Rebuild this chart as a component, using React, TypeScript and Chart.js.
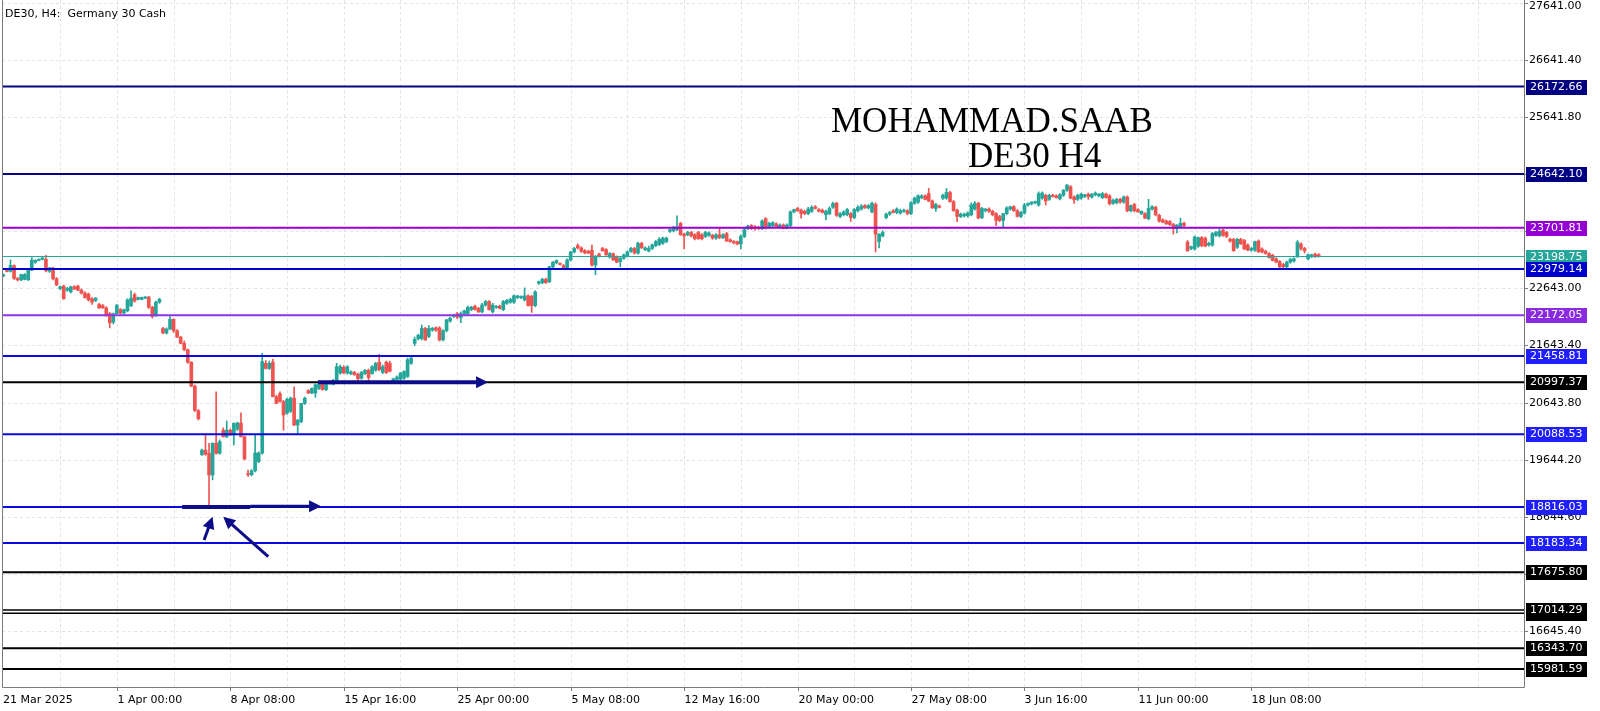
import React, { useEffect, useRef } from "react";
import { Chart, registerables } from "chart.js";
Chart.register(...registerables);

// DE30 H4 candles: [open, high, low, close]
const ohlc: [number, number, number, number][] = [
  [22860,22895,22845,22880],[22975,22990,22930,22940],[22940,23140,22925,23040],[23040,23055,22800,22815],
  [22815,22835,22770,22790],[22790,22890,22775,22880],[22800,22900,22790,22885],[22790,22975,22780,22960],
  [22960,23180,22950,23135],[23100,23140,23080,23135],[23130,23160,23120,23150],[23150,23180,23140,23175],
  [23150,23220,22930,22950],[22940,23010,22920,23000],[23000,23010,22790,22810],[22810,22830,22690,22700],
  [22640,22680,22620,22670],[22680,22700,22450,22460],[22610,22660,22590,22640],[22580,22680,22560,22670],
  [22670,22690,22620,22630],[22680,22700,22600,22610],[22610,22630,22540,22560],[22560,22580,22470,22480],
  [22540,22560,22420,22440],[22460,22480,22360,22400],[22430,22480,22410,22470],[22360,22380,22290,22300],
  [22340,22360,22290,22300],[22300,22320,22150,22180],[22200,22220,21950,22040],[22050,22210,22020,22200],
  [22200,22360,22190,22350],[22270,22290,22190,22210],[22210,22280,22190,22270],[22250,22460,22230,22440],
  [22340,22600,22320,22470],[22530,22560,22400,22420],[22450,22490,22440,22480],[22450,22490,22440,22480],
  [22470,22500,22460,22490],[22490,22500,22290,22310],[22310,22330,22120,22150],[22170,22420,22150,22400],
  [22400,22470,22380,22450],[21940,21960,21850,21860],[21860,21950,21840,21930],[21930,22150,21920,22100],
  [22100,22110,21870,21900],[21900,21920,21780,21790],[21790,21800,21670,21680],[21680,21720,21550,21570],
  [21570,21580,21330,21350],[21350,21360,20920,20930],[20930,20950,20490,20500],[20500,20520,20340,20360],
  [19730,19830,19720,19810],[19810,20100,19720,19740],[19755,19930,18840,19375],[19375,19940,19290,19930],
  [19930,20830,19740,19755],[19755,19990,19740,19960],[20160,20200,20040,20045],[20045,20320,20030,20160],
  [20160,20180,20070,20075],[20075,20290,19900,20280],[20180,20300,20150,20285],[20285,20465,20040,20045],
  [20045,20060,19640,19655],[19400,19460,19350,19380],[19380,19470,19360,19450],[19450,20080,19430,19760],
  [19610,19780,19590,19760],[19760,21505,19740,21360],[21330,21380,21230,21240],[21240,21370,21220,21330],
  [21350,21400,20740,20745],[20745,20770,20620,20630],[20800,20830,20650,20660],[20660,20680,20160,20425],
  [20455,20720,20440,20700],[20490,20740,20470,20720],[20720,20920,20240,20250],[20250,20340,20105,20340],
  [20310,20630,20290,20630],[20630,20740,20610,20720],[20850,20870,20800,20810],[20810,20900,20800,20890],
  [20810,20970,20735,20955],[20890,20980,20870,20960],[20990,21010,20860,20870],[20870,21010,20850,20990],
  [20980,21020,20960,21010],[20960,21050,20950,21030],[21040,21330,21020,21270],[21160,21300,21140,21270],
  [21260,21290,21150,21160],[21160,21290,21140,21270],[21150,21200,21130,21180],[21170,21190,21120,21130],
  [21140,21160,21030,21060],[21070,21190,21050,21170],[21150,21220,21130,21210],[21210,21230,21010,21080],
  [21150,21290,21140,21270],[21210,21350,21190,21330],[21350,21490,21200,21220],[21170,21300,21150,21270],
  [21350,21370,21150,21170],[21330,21370,21180,21190],[21030,21070,21010,21060],[21050,21110,21030,21090],
  [21050,21170,21030,21160],[21070,21200,21050,21190],[21100,21420,21080,21390],[21330,21440,21310,21420],
  [21680,21790,21640,21750],[21760,21840,21740,21820],[21760,22000,21740,21940],[21940,21960,21730,21740],
  [21800,21990,21780,21940],[21910,21960,21890,21940],[21950,21970,21890,21910],[21950,21970,21720,21740],
  [21740,21920,21720,21900],[21900,22100,21880,22090],[22070,22140,22050,22120],[22150,22190,22130,22180],
  [22200,22220,22110,22140],[22130,22230,22040,22200],[22200,22260,22180,22250],[22200,22330,22180,22310],
  [22270,22330,22250,22310],[22330,22350,22260,22270],[22290,22310,22220,22230],[22230,22380,22210,22350],
  [22350,22430,22330,22410],[22410,22430,22260,22270],[22230,22380,22210,22350],[22310,22340,22290,22330],
  [22330,22350,22280,22290],[22270,22430,22250,22410],[22380,22450,22360,22430],[22400,22470,22380,22450],
  [22400,22530,22380,22510],[22480,22520,22460,22510],[22480,22510,22460,22500],[22440,22650,22420,22510],
  [22510,22530,22330,22340],[22500,22520,22220,22340],[22340,22600,22320,22580],[22730,22770,22710,22760],
  [22740,22820,22720,22800],[22800,22820,22730,22740],[22760,23030,22740,23020],[23020,23110,23000,23100],
  [23090,23140,23070,23130],[23070,23090,23050,23060],[23040,23060,22980,22990],[22990,23160,22970,23140],
  [23140,23290,23120,23280],[23280,23360,23260,23340],[23390,23420,23330,23350],[23350,23370,23270,23290],
  [23300,23320,23250,23260],[23290,23310,23250,23260],[23310,23400,23030,23050],[23050,23220,22880,23190],
  [23240,23260,23190,23200],[23340,23360,23290,23300],[23320,23340,23220,23230],[23190,23270,23170,23250],
  [23250,23260,23130,23140],[23200,23210,23090,23100],[23110,23200,23020,23170],[23170,23240,23150,23230],
  [23210,23300,23190,23280],[23290,23360,23270,23340],[23340,23360,23240,23260],[23260,23450,23240,23430],
  [23430,23450,23340,23350],[23320,23370,23300,23350],
  [23295,23380,23280,23340],[23340,23420,23320,23400],[23390,23480,23370,23460],[23410,23530,23390,23500],
  [23430,23540,23410,23520],[23460,23540,23440,23520],[23640,23680,23620,23670],[23650,23730,23630,23710],
  [23670,23910,23650,23720],[23780,23800,23570,23580],[23590,23610,23330,23560],[23580,23640,23560,23620],
  [23620,23640,23540,23560],[23580,23600,23490,23510],[23620,23640,23500,23510],[23580,23600,23490,23510],
  [23550,23640,23530,23620],[23570,23630,23550,23610],[23570,23590,23500,23520],[23520,23600,23500,23580],
  [23580,23690,23510,23530],[23530,23600,23510,23580],[23600,23620,23460,23470],[23490,23510,23450,23460],
  [23460,23480,23420,23440],[23460,23470,23400,23420],[23420,23580,23330,23550],[23550,23710,23530,23670],
  [23690,23750,23670,23730],[23740,23760,23670,23690],[23720,23740,23660,23690],[23710,23730,23670,23690],
  [23690,23840,23670,23820],[23860,23880,23680,23700],[23720,23800,23700,23780],[23740,23810,23720,23790],
  [23770,23790,23710,23720],[23720,23770,23700,23750],[23750,23770,23680,23690],[23700,23770,23680,23750],
  [23740,24000,23720,23980],[23980,24030,23960,24020],[24040,24060,23990,24000],[24010,24030,23870,23950],
  [23990,24010,23930,23950],[23950,24060,23930,24030],[23990,24090,23970,24060],[24070,24090,24030,24040],
  [24020,24040,23980,23990],[24010,24030,23960,23970],[23930,24010,23840,23990],[23950,24070,23930,24040],
  [24060,24150,24040,24130],[24130,24150,23900,23920],[23900,23970,23880,23950],[23930,24000,23910,23980],
  [23930,24040,23910,24020],[23950,23970,23810,23880],[23880,24040,23860,24020],[24000,24090,23980,24060],
  [24030,24110,24010,24080],[24090,24110,24040,24050],[24050,24110,24030,24090],[23980,24150,23960,24130],
  [24110,24140,23280,23590],[23460,23600,23350,23590],[23560,23650,23540,23620],[23880,23960,23860,23940],
  [23940,23990,23920,23970],[24000,24020,23960,23970],[23970,24050,23950,24030],
  [23960,24030,23940,24000],[23990,24030,23970,24010],[24000,24020,23930,23950],[23950,24160,23930,24140],
  [24130,24240,24110,24220],[24150,24280,24130,24260],[24230,24280,24210,24260],[24260,24280,24190,24200],
  [24300,24390,24160,24170],[24170,24190,24040,24050],[24040,24130,23990,24110],[24080,24100,24050,24060],
  [24220,24290,24200,24270],[24220,24390,24200,24320],[24320,24340,24150,24160],[24160,24180,23990,24000],
  [24010,24030,23810,23900],[23900,23960,23880,23940],[23910,23960,23890,23940],[23910,23980,23890,23960],
  [23930,24140,23910,24100],[24030,24160,24010,24130],[24130,24150,23860,23870],[23880,24060,23860,24040],
  [24000,24040,23980,24030],[24030,24050,23970,23990],[23990,24010,23910,23930],[23950,23970,23740,23830],
  [23900,23920,23810,23830],[23830,23950,23700,23950],[23950,24070,23930,24050],[24030,24080,24010,24070],
  [24070,24090,23990,24000],[24000,24020,23890,23900],[23900,23990,23880,23970],[23960,24130,23940,24100],
  [24100,24140,24080,24130],[24120,24160,24100,24150],[24140,24170,24120,24160],[24100,24330,24080,24300],
  [24220,24330,24200,24310],[24270,24290,24100,24170],[24200,24290,24180,24270],[24270,24290,24240,24250],
  [24260,24280,24220,24230],[24210,24300,24190,24280],[24270,24370,24250,24360],[24360,24460,24340,24450],
  [24420,24440,24210,24220],[24240,24260,24130,24190],[24200,24290,24180,24270],[24220,24310,24200,24290],
  [24250,24290,24230,24280],[24290,24310,24200,24250],[24240,24300,24220,24290],[24280,24330,24260,24310],
  [24260,24300,24240,24290],[24230,24320,24210,24300],[24290,24310,24220,24230],[24260,24280,24100,24120],
  [24130,24210,24110,24180],[24140,24220,24120,24200],[24200,24220,24130,24150],[24150,24260,24130,24240],
  [24240,24260,23980,24000],[24000,24100,23980,24090],[24110,24130,23980,24000],[24020,24040,23970,23980],
  [23950,24000,23930,23990],[23950,23970,23860,23870],[23860,24200,23840,24040],[24030,24090,24010,24070],
  [24060,24080,23910,23930],[23920,23940,23800,23820],
  [23840,23860,23790,23800],[23820,23840,23760,23770],[23810,23830,23740,23760],[23760,23780,23590,23690],
  [23690,23760,23610,23750],[23720,23870,23700,23780],[23780,23800,23720,23740],[23450,23480,23290,23300],
  [23340,23380,23320,23370],[23330,23560,23310,23540],[23380,23540,23360,23530],[23530,23550,23370,23390],
  [23520,23540,23370,23380],[23400,23450,23380,23430],[23400,23620,23380,23600],[23570,23640,23550,23620],
  [23560,23680,23540,23640],[23660,23680,23550,23570],[23620,23640,23530,23550],[23500,23520,23450,23470],
  [23500,23520,23290,23300],[23360,23520,23340,23500],[23500,23520,23410,23420],[23480,23500,23320,23330],
  [23400,23420,23300,23310],[23310,23360,23290,23340],[23310,23470,23290,23460],[23470,23490,23270,23280],
  [23330,23350,23260,23280],[23290,23310,23240,23250],[23250,23270,23170,23180],[23220,23240,23120,23130],
  [23160,23180,23090,23100],[23110,23130,22990,23020],[23060,23080,22980,23020],[23020,23120,23000,23100],
  [23100,23170,23080,23150],[23120,23180,23100,23160],[23200,23480,23180,23450],[23420,23440,23310,23340],
  [23340,23360,23260,23300],[23160,23240,23140,23230],[23200,23240,23180,23230],[23240,23260,23180,23200],
  [23230,23250,23190,23200],
];

// Horizontal price levels (drawn in this order)
const levelValues = [26172.66, 24642.10, 23701.81, 23198.75, 22979.14, 22172.05, 21458.81, 20997.37,
  20088.53, 18816.03, 18183.34, 17675.80, 16955.12, 17014.29, 16343.70, 15981.59];
const levelLabels = ["26172.66", "24642.10", "23701.81", "23198.75", "22979.14", "22172.05", "21458.81", "20997.37",
  "20088.53", "18816.03", "18183.34", "17675.80", "16955.12", "17014.29", "16343.70", "15981.59"];

// Right axis tick values
const yTickValues = [27641.00, 26641.40, 25641.80, 24642.20, 23642.60, 22643.00, 21643.40, 20643.80,
  19644.20, 18644.60, 17645.00, 16645.40];

// Time axis labels and the bar index they sit on
const dateLabels = ["21 Mar 2025", "1 Apr 00:00", "8 Apr 08:00", "15 Apr 16:00", "25 Apr 00:00", "5 May 08:00",
  "12 May 16:00", "20 May 00:00", "27 May 08:00", "3 Jun 16:00", "11 Jun 00:00", "18 Jun 08:00"];
const dateIndices = [0, 32, 64, 96, 128, 160, 192, 224, 256, 288, 320, 352];

// Hand-drawn arrows in (bar index, price) units: [x1, y1, x2, y2]
const arrowSegments: [number, number, number, number][] = [
  [50.4, 18816.03, 69.6, 18816.03],
  [69.6, 18830, 89.6, 18830],
  [88.7, 20997.37, 136.7, 20997.37],
  [56.6, 18238, 59.0, 18646],
  [74.7, 17946, 62.0, 18646],
];
const arrowHasHead = [false, true, true, true, true];

// ---- styles ----
const BULL = "#26a69a";
const BEAR = "#ef5350";
const NAVY = "#0d0d8a";
const levelLineColors = ["#05057e", "#05057e", "#9a00d6", "#26a69a", "#0000cc", "#8c35e8", "#0a0ae0", "#000000",
  "#0a0ae0", "#0a0ae0", "#0a0ae0", "#000000", "#000000", "#000000", "#000000", "#000000"];
const levelBoxColors = ["#000080", "#000080", "#9400d3", "#26a69a", "#0000cd", "#8a2be2", "#1e1eff", "#000000",
  "#1e1eff", "#1e1eff", "#1e1eff", "#000000", "#000000", "#000000", "#000000", "#000000"];
const levelLineWidths = [2, 2, 2, 1, 2, 2, 2, 2, 2, 2, 2, 2, 1.5, 1.5, 2, 2];
const arrowWidths = [4, 3, 4, 3, 3];
const AXIS_FONT = '11px "DejaVu Sans", Tahoma, sans-serif';

const mtPlugin = {
  id: "mtDecor",
  beforeDraw(chart: any) {
    const ctx = chart.ctx;
    ctx.save();
    ctx.fillStyle = "#ffffff";
    ctx.fillRect(0, 0, chart.width, chart.height);
    ctx.restore();
  },
  beforeDatasetsDraw(chart: any) {
    const { ctx, chartArea: a, scales } = chart;
    const xs = scales.x, ys = scales.y;
    ctx.save();
    ctx.strokeStyle = "#e3e3e3";
    ctx.lineWidth = 1;
    ctx.setLineDash([3, 3]);
    for (const v of yTickValues) {
      const y = Math.round(ys.getPixelForValue(v)) + 0.5;
      ctx.beginPath(); ctx.moveTo(a.left, y); ctx.lineTo(a.right, y); ctx.stroke();
    }
    for (let i = 16; i < xs.max; i += 16) {
      const x = Math.round(xs.getPixelForValue(i)) + 0.5;
      ctx.beginPath(); ctx.moveTo(x, a.top); ctx.lineTo(x, a.bottom); ctx.stroke();
    }
    ctx.setLineDash([]);
    // watermark
    ctx.fillStyle = "#000000";
    ctx.font = '35px "Liberation Serif", "Times New Roman", serif';
    ctx.textBaseline = "alphabetic";
    ctx.fillText("MOHAMMAD.SAAB", 831, 131.5);
    ctx.fillText("DE30 H4", 968, 167);
    // title
    ctx.font = AXIS_FONT;
    ctx.fillText("DE30, H4:  Germany 30 Cash", 5, 16.5);
    ctx.restore();
  },
  afterDatasetsDraw(chart: any) {
    const { ctx, chartArea: a, scales } = chart;
    const xs = scales.x, ys = scales.y;
    ctx.save();
    ctx.beginPath(); ctx.rect(a.left, a.top, a.right - a.left, a.bottom - a.top); ctx.clip();
    // levels
    levelValues.forEach((v, i) => {
      const y = ys.getPixelForValue(v);
      ctx.strokeStyle = levelLineColors[i];
      ctx.lineWidth = levelLineWidths[i];
      ctx.beginPath(); ctx.moveTo(a.left, y); ctx.lineTo(a.right, y); ctx.stroke();
    });
    // arrows
    ctx.strokeStyle = NAVY; ctx.fillStyle = NAVY; ctx.lineCap = "butt";
    arrowSegments.forEach((s, i) => {
      const x1 = xs.getPixelForValue(s[0]), y1 = ys.getPixelForValue(s[1]);
      const x2 = xs.getPixelForValue(s[2]), y2 = ys.getPixelForValue(s[3]);
      const ang = Math.atan2(y2 - y1, x2 - x1);
      const head = arrowHasHead[i] ? 12 : 0;
      ctx.lineWidth = arrowWidths[i];
      ctx.beginPath(); ctx.moveTo(x1, y1);
      ctx.lineTo(x2 - Math.cos(ang) * head * 0.8, y2 - Math.sin(ang) * head * 0.8); ctx.stroke();
      if (head) {
        ctx.beginPath();
        ctx.moveTo(x2, y2);
        ctx.lineTo(x2 - Math.cos(ang) * head - Math.sin(ang) * 6, y2 - Math.sin(ang) * head + Math.cos(ang) * 6);
        ctx.lineTo(x2 - Math.cos(ang) * head + Math.sin(ang) * 6, y2 - Math.sin(ang) * head - Math.cos(ang) * 6);
        ctx.closePath(); ctx.fill();
      }
    });
    ctx.restore();

    ctx.save();
    // frame
    ctx.strokeStyle = "#7a7a7a"; ctx.lineWidth = 1;
    ctx.beginPath();
    ctx.moveTo(a.left + 0.5, a.top); ctx.lineTo(a.left + 0.5, a.bottom + 0.5);
    ctx.lineTo(a.right + 0.5, a.bottom + 0.5); ctx.lineTo(a.right + 0.5, a.top);
    ctx.stroke();
    ctx.font = AXIS_FONT;
    ctx.fillStyle = "#000000";
    // y ticks
    ctx.textBaseline = "middle";
    for (const v of yTickValues) {
      const y = Math.round(ys.getPixelForValue(v)) + 0.5;
      ctx.beginPath(); ctx.moveTo(a.right, y); ctx.lineTo(a.right + 4, y); ctx.stroke();
      ctx.fillText(v.toFixed(2), a.right + 5, Math.max(y, 6));
    }
    // x ticks
    ctx.textBaseline = "alphabetic";
    dateLabels.forEach((lab, i) => {
      const idx = dateIndices[i];
      if (idx === 0) { ctx.fillText(lab, 3, 703); return; }
      const x = Math.round(xs.getPixelForValue(idx)) + 0.5;
      ctx.beginPath(); ctx.moveTo(x, a.bottom); ctx.lineTo(x, a.bottom + 4); ctx.stroke();
      ctx.fillText(lab, x, 703);
    });
    // level price boxes
    ctx.textBaseline = "middle";
    levelValues.forEach((v, i) => {
      const y = ys.getPixelForValue(v);
      ctx.fillStyle = levelBoxColors[i];
      ctx.fillRect(a.right + 2, Math.round(y) - 7, 61, 15);
      ctx.fillStyle = "#ffffff";
      ctx.fillText(levelLabels[i], a.right + 6, Math.round(y) + 0.5);
    });
    ctx.restore();
  },
};

export default function App() {
  const ref = useRef<HTMLCanvasElement>(null);
  useEffect(() => {
    document.body.style.margin = "0";
    const colors = ohlc.map((c) => (c[3] >= c[0] ? BULL : BEAR));
    const chart = new Chart(ref.current as HTMLCanvasElement, {
      type: "bar",
      data: {
        datasets: [
          {
            label: "wick",
            data: ohlc.map((c, i) => ({ x: i, y: [c[2], c[1]] })) as any,
            backgroundColor: colors,
            barThickness: 1,
            grouped: false,
            order: 2,
            borderWidth: 0,
          } as any,
          {
            label: "body",
            data: ohlc.map((c, i) => ({ x: i, y: [c[0], c[3]] })) as any,
            backgroundColor: colors,
            barThickness: 3,
            grouped: false,
            order: 1,
            minBarLength: 1,
            borderWidth: 0,
          } as any,
        ],
      },
      options: {
        animation: false,
        responsive: false,
        devicePixelRatio: 1,
        events: [],
        layout: { padding: { left: 2, top: 0, right: 76, bottom: 24 } },
        plugins: { legend: { display: false }, tooltip: { enabled: false } },
        scales: {
          x: { type: "linear", min: -0.4, max: 428.9, display: false, offset: false },
          y: { type: "linear", min: 15665.5, max: 27688, display: false },
        },
      } as any,
      plugins: [mtPlugin],
    });
    return () => chart.destroy();
  }, []);
  return (
    <div style={{ width: 1600, height: 711 }}>
      <canvas ref={ref} width={1600} height={711} style={{ display: "block", width: 1600, height: 711 }} />
    </div>
  );
}
